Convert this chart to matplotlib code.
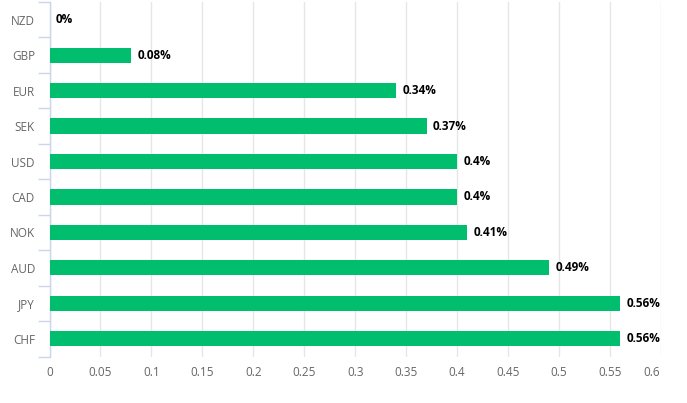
import matplotlib
matplotlib.use("Agg")
import matplotlib.pyplot as plt
from matplotlib.ticker import FixedLocator
from matplotlib.transforms import ScaledTranslation

categories = ["NZD", "GBP", "EUR", "SEK", "USD", "CAD", "NOK", "AUD", "JPY", "CHF"]
values = [0, 0.08, 0.34, 0.37, 0.4, 0.4, 0.41, 0.49, 0.56, 0.56]
labels = ["0%", "0.08%", "0.34%", "0.37%", "0.4%", "0.4%", "0.41%", "0.49%", "0.56%", "0.56%"]
xticks = [0, 0.05, 0.1, 0.15, 0.2, 0.25, 0.3, 0.35, 0.4, 0.45, 0.5, 0.55, 0.6]
xtick_labels = ["0", "0.05", "0.1", "0.15", "0.2", "0.25", "0.3", "0.35", "0.4", "0.45", "0.5", "0.55", "0.6"]

plt.rcParams['font.family'] = ['Open Sans', 'DejaVu Sans']

fig = plt.figure(figsize=(6.87, 4.03), dpi=100)
ax = fig.add_axes([49.5/687, 1-356.5/403, (661-49.5)/687, (356.5-2)/403])

n = len(categories)
ypos = list(range(n))
ax.barh(ypos, values, height=0.43, color="#00BE6E", zorder=3)
for y, v, lab in zip(ypos, values, labels):
    ax.annotate(lab, xy=(v, y), xytext=(4.5, 0), textcoords="offset points",
                ha="left", va="center", fontsize=8.5, fontweight="bold", color="#000000", zorder=4)

ax.set_xlim(0, 0.6)
ax.set_ylim(n - 0.5, -0.5)
ax.set_xticks(xticks)
ax.set_xticklabels(xtick_labels)
ax.set_yticks(ypos)
ax.set_yticklabels(categories)
ax.yaxis.set_minor_locator(FixedLocator([i - 0.5 for i in range(n + 1)]))
ax.tick_params(axis="y", which="major", length=0, pad=10.5, labelsize=8.5, labelcolor="#666666")
ax.tick_params(axis="y", which="minor", length=9, width=1, color="#ccd6eb")
ax.tick_params(axis="x", which="major", length=0, pad=6.5, labelsize=8.5, labelcolor="#666666")
ax.grid(axis="x", color="#e6e6e6", linewidth=1, zorder=0)
for s in ["top", "right", "bottom"]:
    ax.spines[s].set_visible(False)
ax.spines["left"].set_color("#ccd6eb")
ax.spines["left"].set_linewidth(1)

# last x label shifted inward (as in reference)
last = ax.get_xticklabels()[-1]
last.set_transform(last.get_transform() + ScaledTranslation(-9/100, 0, fig.dpi_scale_trans))

fig.savefig("out.png", dpi=100)
